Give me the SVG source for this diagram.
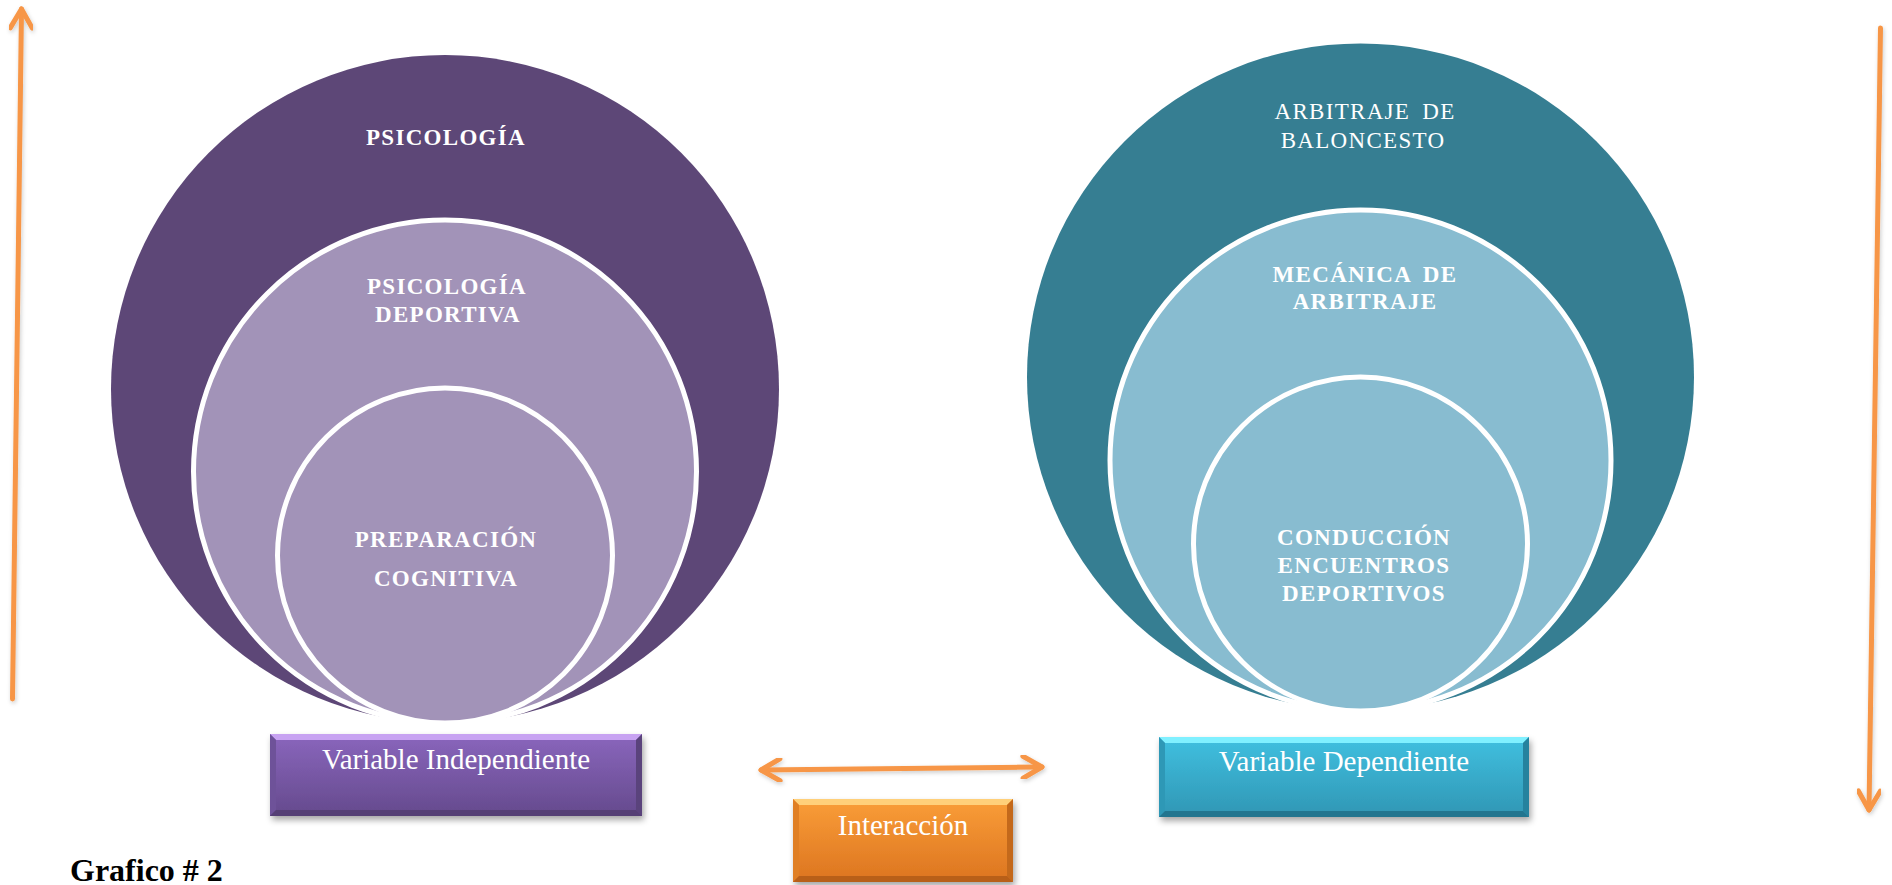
<svg xmlns="http://www.w3.org/2000/svg" width="1892" height="885" viewBox="0 0 1892 885">
  <style>
    .lbl { font-family: "Liberation Serif", "Times New Roman", serif; fill: #ffffff; text-anchor: middle; }
    .b { font-weight: bold; font-size: 23px; letter-spacing: 1.3px; }
    .r { font-weight: normal; font-size: 23px; letter-spacing: 1.3px; }
    .box { font-family: "Liberation Serif", "Times New Roman", serif; fill: #ffffff; font-size: 29px; text-anchor: middle; }
    .ring { stroke: #ffffff; stroke-width: 5; }
    .arrow { fill: none; stroke: #F79646; stroke-width: 5; stroke-linecap: round; stroke-linejoin: round; }
    .cap { font-family: "Liberation Serif", "Times New Roman", serif; font-weight: bold; font-size: 32px; fill: #000000; }
  </style>
  <defs>
    <filter id="shadow" x="-10%" y="-10%" width="125%" height="140%">
      <feDropShadow dx="2" dy="4" stdDeviation="3" flood-color="#000000" flood-opacity="0.35"/>
    </filter>
    <filter id="ashadow" x="-20%" y="-20%" width="140%" height="140%">
      <feDropShadow dx="1" dy="2" stdDeviation="2" flood-color="#000000" flood-opacity="0.2"/>
    </filter>
    <linearGradient id="gPurple" x1="0" y1="0" x2="0" y2="1">
      <stop offset="0" stop-color="#8A66BD"/>
      <stop offset="1" stop-color="#654A8D"/>
    </linearGradient>
    <linearGradient id="gTeal" x1="0" y1="0" x2="0" y2="1">
      <stop offset="0" stop-color="#40C0E0"/>
      <stop offset="1" stop-color="#3096B4"/>
    </linearGradient>
    <linearGradient id="gOrange" x1="0" y1="0" x2="0" y2="1">
      <stop offset="0" stop-color="#FA9E38"/>
      <stop offset="1" stop-color="#DC7420"/>
    </linearGradient>
    <marker id="head" viewBox="-22 -12 26 24" refX="0" refY="0" markerWidth="26" markerHeight="24" markerUnits="userSpaceOnUse" orient="auto-start-reverse">
      <path d="M -19,-11 L 0,0 L -19,11" fill="none" stroke="#F79646" stroke-width="5" stroke-linecap="round" stroke-linejoin="round"/>
    </marker>
  </defs>

  <rect x="0" y="0" width="1892" height="885" fill="#ffffff"/>

  <!-- Left nested circles -->
  <g id="psicologia">
    <circle cx="445" cy="389" r="334" fill="#5D4777"/>
    <text class="lbl b" x="446" y="145">PSICOLOGÍA</text>
  </g>
  <g id="psicologia-deportiva">
    <circle class="ring" cx="445" cy="471.5" r="251.5" fill="#A293B8"/>
    <text class="lbl b" x="447" y="294">PSICOLOGÍA</text>
    <text class="lbl b" x="448" y="322">DEPORTIVA</text>
  </g>
  <g id="preparacion-cognitiva">
    <circle class="ring" cx="445" cy="555.5" r="167.5" fill="#A293B8"/>
    <text class="lbl b" x="446" y="547">PREPARACIÓN</text>
    <text class="lbl b" x="446" y="586">COGNITIVA</text>
  </g>

  <!-- Right nested circles -->
  <g id="arbitraje-baloncesto">
    <circle cx="1360.5" cy="377" r="333.5" fill="#367E92"/>
    <text class="lbl r" x="1365" y="119" word-spacing="5">ARBITRAJE DE</text>
    <text class="lbl r" x="1363" y="148">BALONCESTO</text>
  </g>
  <g id="mecanica-arbitraje">
    <circle class="ring" cx="1360.5" cy="460.5" r="250.5" fill="#88BCD0"/>
    <text class="lbl b" x="1365" y="282" word-spacing="5">MECÁNICA DE</text>
    <text class="lbl b" x="1365" y="309">ARBITRAJE</text>
  </g>
  <g id="conduccion-encuentros">
    <circle class="ring" cx="1360.5" cy="544" r="167" fill="#88BCD0"/>
    <text class="lbl b" x="1364" y="545">CONDUCCIÓN</text>
    <text class="lbl b" x="1364" y="573">ENCUENTROS</text>
    <text class="lbl b" x="1364" y="601">DEPORTIVOS</text>
  </g>

  <!-- Boxes -->
  <g id="variable-independiente">
    <g filter="url(#shadow)">
      <rect x="270" y="734" width="372" height="82" fill="url(#gPurple)"/>
    </g>
    <polygon points="270,734 642,734 636,740 276,740" fill="#C8A3F2"/>
    <polygon points="270,734 276,740 276,810 270,816" fill="#6E5299"/>
    <polygon points="642,734 642,816 636,810 636,740" fill="#5A437C"/>
    <polygon points="270,816 276,810 636,810 642,816" fill="#553F75"/>
    <text class="box" x="456" y="769">Variable Independiente</text>
  </g>

  <g id="interaccion">
    <g filter="url(#shadow)">
      <rect x="793" y="799" width="220" height="83" fill="url(#gOrange)"/>
    </g>
    <polygon points="793,799 1013,799 1007,805 799,805" fill="#FFD07A"/>
    <polygon points="793,799 799,805 799,876 793,882" fill="#E07F24"/>
    <polygon points="1013,799 1013,882 1007,876 1007,805" fill="#C4691B"/>
    <polygon points="793,882 799,876 1007,876 1013,882" fill="#B85F18"/>
    <text class="box" x="903" y="835">Interacción</text>
  </g>

  <g id="variable-dependiente">
    <g filter="url(#shadow)">
      <rect x="1159" y="737" width="370" height="80" fill="url(#gTeal)"/>
    </g>
    <polygon points="1159,737 1529,737 1523,743 1165,743" fill="#80F0FF"/>
    <polygon points="1159,737 1165,743 1165,811 1159,817" fill="#2E98B6"/>
    <polygon points="1529,737 1529,817 1523,811 1523,743" fill="#25829E"/>
    <polygon points="1159,817 1165,811 1523,811 1529,817" fill="#22758F"/>
    <text class="box" x="1344" y="771">Variable Dependiente</text>
  </g>

  <!-- Connectors -->
  <g id="connectors" filter="url(#ashadow)">
    <line class="arrow" x1="12.5" y1="699" x2="21.5" y2="9" marker-end="url(#head)"/>
    <line class="arrow" x1="1880.5" y1="28" x2="1869" y2="810" marker-end="url(#head)"/>
    <line class="arrow" x1="761" y1="770" x2="1042" y2="767" marker-start="url(#head)" marker-end="url(#head)"/>
  </g>

  <text id="caption" class="cap" x="70" y="881">Grafico # 2</text>
</svg>
